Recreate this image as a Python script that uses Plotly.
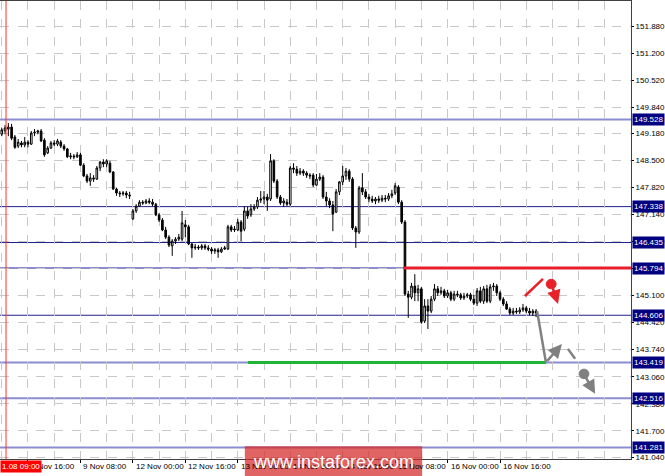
import plotly.graph_objects as go

# hourly candles, bar index 0..164 (8 Nov ~07:00 onwards)
opens = [149.19, 149.16, 149.24, 149.29, 149.34, 149.09, 148.86, 148.94, 148.89, 148.96,
         148.91, 149.19, 149.21, 149.24, 149.01, 148.69, 148.81, 148.94, 148.91, 148.96,
         148.86, 148.79, 148.59, 148.61, 148.59, 148.64, 148.38, 148.11, 147.98, 148.06,
         148.03, 148.31, 148.46, 148.41, 148.43, 148.21, 147.78, 147.68, 147.66, 147.68,
         147.63, 147.03, 147.23, 147.35, 147.45, 147.43, 147.48, 147.45, 147.40, 147.13,
         147.00, 146.75, 146.57, 146.35, 146.47, 146.52, 146.52, 146.88, 146.83, 146.40,
         146.30, 146.32, 146.30, 146.35, 146.30, 146.27, 146.22, 146.25, 146.20, 146.27,
         146.27, 146.83, 146.75, 146.75, 146.95, 146.77, 147.23, 147.13, 147.28, 147.33,
         147.50, 147.53, 147.58, 147.53, 148.49, 147.98, 147.58, 147.43, 147.45, 147.40,
         148.31, 148.28, 148.18, 148.23, 148.18, 148.13, 148.13, 147.88, 148.03, 148.08,
         147.58, 147.48, 147.38, 147.20, 147.71, 147.96, 148.11, 148.23, 148.03, 146.80,
         146.70, 147.81, 147.71, 147.58, 147.53, 147.48, 147.53, 147.50, 147.55, 147.53,
         147.61, 147.68, 147.83, 147.45, 146.95, 145.14, 145.06, 145.34, 145.17, 145.27,
         144.46, 144.84, 144.71, 145.01, 145.27, 145.17, 145.22, 145.09, 145.17, 145.01,
         145.14, 145.12, 145.04, 145.09, 145.12, 145.01, 144.91, 145.22, 144.96, 145.27,
         144.96, 145.32, 145.34, 145.17, 145.01, 144.89, 144.76, 144.66, 144.71, 144.69,
         144.74, 144.79, 144.71, 144.66, 144.71]
highs = [149.29, 149.32, 149.39, 149.44, 149.42, 149.14, 149.04, 148.99, 149.09, 149.01,
         149.24, 149.29, 149.27, 149.29, 149.06, 148.86, 148.99, 149.01, 149.04, 149.01,
         148.91, 148.81, 148.69, 148.66, 148.71, 148.69, 148.43, 148.16, 148.18, 148.13,
         148.36, 148.49, 148.53, 148.53, 148.49, 148.23, 147.81, 147.73, 147.73, 147.73,
         147.71, 147.28, 147.40, 147.50, 147.50, 147.53, 147.55, 147.53, 147.43, 147.18,
         147.05, 146.83, 146.62, 146.52, 146.57, 146.65, 147.23, 147.00, 146.88, 146.42,
         146.40, 146.37, 146.40, 146.40, 146.37, 146.32, 146.30, 146.30, 146.32, 146.35,
         146.88, 146.88, 146.85, 147.03, 147.00, 147.35, 147.33, 147.40, 147.40, 147.58,
         147.73, 147.73, 147.66, 148.66, 148.53, 148.03, 147.63, 147.55, 147.53, 148.36,
         148.43, 148.36, 148.31, 148.28, 148.23, 148.18, 148.18, 148.16, 148.18, 148.13,
         147.71, 147.55, 147.48, 147.78, 147.98, 148.36, 148.31, 148.28, 148.08, 146.85,
         147.86, 148.18, 147.78, 147.66, 147.61, 147.58, 147.61, 147.63, 147.63, 147.68,
         147.76, 147.93, 147.88, 147.50, 147.00, 145.22, 145.42, 145.64, 145.37, 145.32,
         145.01, 145.01, 145.09, 145.39, 145.34, 145.32, 145.27, 145.24, 145.22, 145.22,
         145.22, 145.17, 145.17, 145.17, 145.17, 145.12, 145.29, 145.32, 145.34, 145.37,
         145.39, 145.42, 145.39, 145.22, 145.06, 144.96, 144.81, 144.79, 144.79, 144.81,
         144.89, 144.84, 144.79, 144.76, 144.76]
lows = [149.11, 149.11, 149.16, 149.11, 149.01, 148.79, 148.81, 148.83, 148.83, 148.83,
        148.89, 149.11, 149.16, 148.96, 148.59, 148.66, 148.79, 148.86, 148.86, 148.81,
        148.74, 148.56, 148.53, 148.53, 148.56, 148.36, 148.08, 147.93, 147.86, 147.96,
        148.01, 148.23, 148.33, 148.33, 148.18, 147.76, 147.61, 147.58, 147.61, 147.55,
        147.53, 147.00, 147.18, 147.33, 147.38, 147.40, 147.40, 147.35, 147.10, 146.95,
        146.72, 146.52, 146.32, 146.10, 146.40, 146.47, 146.47, 146.57, 146.37, 146.05,
        146.25, 146.25, 146.25, 146.25, 146.22, 146.15, 146.15, 146.05, 146.17, 146.25,
        146.25, 146.70, 146.70, 146.72, 146.47, 146.72, 147.03, 147.08, 147.23, 147.28,
        147.43, 147.40, 147.23, 147.48, 147.93, 147.53, 147.38, 147.33, 147.35, 147.35,
        148.18, 148.11, 148.13, 148.11, 148.06, 148.03, 147.83, 147.86, 147.98, 147.53,
        147.35, 147.30, 146.72, 147.18, 147.63, 147.88, 148.01, 147.96, 146.75, 146.30,
        146.65, 147.63, 147.53, 147.45, 147.43, 147.40, 147.43, 147.45, 147.45, 147.48,
        147.55, 147.63, 147.40, 146.90, 145.09, 144.54, 145.01, 144.96, 144.96, 144.39,
        144.41, 144.26, 144.66, 144.96, 145.09, 145.12, 145.04, 145.04, 144.96, 144.96,
        145.06, 144.99, 144.99, 145.04, 144.96, 144.86, 144.84, 144.91, 144.89, 144.91,
        144.91, 145.22, 145.09, 144.96, 144.84, 144.74, 144.61, 144.61, 144.64, 144.64,
        144.69, 144.66, 144.61, 144.59, 144.56]
closes = [149.24, 149.27, 149.32, 149.34, 149.06, 148.83, 148.96, 148.89, 148.96, 148.91,
          149.19, 149.21, 149.24, 148.99, 148.64, 148.81, 148.94, 148.91, 148.99, 148.86,
          148.79, 148.59, 148.61, 148.59, 148.64, 148.38, 148.11, 147.98, 148.06, 148.03,
          148.31, 148.46, 148.41, 148.49, 148.21, 147.78, 147.68, 147.66, 147.68, 147.63,
          147.61, 147.23, 147.35, 147.45, 147.43, 147.48, 147.45, 147.40, 147.13, 147.00,
          146.75, 146.57, 146.37, 146.47, 146.52, 146.57, 146.93, 146.83, 146.40, 146.30,
          146.32, 146.30, 146.35, 146.30, 146.27, 146.22, 146.25, 146.20, 146.27, 146.30,
          146.83, 146.75, 146.77, 146.95, 146.72, 147.23, 147.10, 147.28, 147.33, 147.50,
          147.53, 147.58, 147.50, 148.49, 147.98, 147.58, 147.43, 147.48, 147.40, 148.31,
          148.28, 148.18, 148.23, 148.18, 148.13, 148.11, 147.88, 148.03, 148.08, 147.58,
          147.48, 147.38, 147.15, 147.71, 147.96, 148.11, 148.23, 148.03, 146.80, 146.70,
          147.81, 147.71, 147.58, 147.53, 147.48, 147.53, 147.50, 147.55, 147.53, 147.61,
          147.66, 147.86, 147.45, 146.95, 145.14, 145.06, 145.34, 145.17, 145.27, 144.44,
          144.84, 144.71, 145.01, 145.27, 145.17, 145.22, 145.09, 145.17, 145.01, 145.14,
          145.12, 145.04, 145.09, 145.12, 145.01, 144.91, 145.22, 144.96, 145.27, 144.96,
          145.32, 145.34, 145.17, 145.01, 144.89, 144.76, 144.66, 144.71, 144.69, 144.74,
          144.79, 144.71, 144.66, 144.71, 144.66]
bar_index = list(range(len(closes)))

# time labels every 16 bars
time_ticks = [9, 25, 41, 57, 73, 89, 105, 121, 137, 153]
time_labels = ['8 Nov 16:00', '9 Nov 08:00', '12 Nov 00:00', '12 Nov 16:00', '13 Nov 08:00',
               '14 Nov 00:00', '14 Nov 16:00', '15 Nov 08:00', '16 Nov 00:00', '16 Nov 16:00']

# price scale as printed on the right axis
price_ticks = [141.04, 141.70, 142.38, 143.06, 143.74, 144.42, 145.10, 145.78, 146.46,
               147.14, 147.82, 148.50, 149.18, 149.84, 150.52, 151.20, 151.88]

# horizontal levels: value, light (True) or dark line
levels = [149.528, 147.338, 146.435, 145.794, 144.606, 143.419, 142.516, 141.281]
level_light = [True, False, False, True, False, True, True, True]

red_level = 145.794
green_level = 143.419
x_range = [0.46, 192.95]
y_range = [140.99, 152.51]

navy = '#000080'
light_line = '#8c8cd0'
dark_line = '#20208c'
red = '#e8202a'
grey = '#808080'
font_fam = 'Liberation Sans'

fig = go.Figure()
fig.add_trace(go.Candlestick(
    x=bar_index, open=opens, high=highs, low=lows, close=closes,
    increasing=dict(line=dict(color='black', width=1), fillcolor='white'),
    decreasing=dict(line=dict(color='black', width=1), fillcolor='black'),
    whiskerwidth=0, showlegend=False, hoverinfo='skip'))

shapes = []
for lv, lt in zip(levels, level_light):
    shapes.append(dict(type='line', xref='paper', x0=0, x1=1, y0=lv, y1=lv, yref='y',
                       line=dict(color=light_line if lt else dark_line, width=2 if lt else 1),
                       layer='below'))

# red resistance and green target lines
shapes.append(dict(type='line', xref='x', yref='y', x0=123.5, x1=x_range[1], y0=red_level, y1=red_level,
                   line=dict(color=red, width=3)))
shapes.append(dict(type='line', xref='x', yref='y', x0=76.1, x1=167.0, y0=green_level, y1=green_level,
                   line=dict(color='#22b436', width=3)))
# crosshair line
shapes.append(dict(type='line', xref='x', yref='paper', x0=2.3, x1=2.3, y0=0, y1=1,
                   line=dict(color='#ff3030', width=1)))

# scenario drawings
shapes.append(dict(type='line', xref='x', yref='y', x0=160.6, y0=145.09, x1=166.1, y1=145.52,
                   line=dict(color=red, width=2.5)))
shapes.append(dict(type='circle', xref='x', yref='y', x0=167.1, x1=170.1, y0=145.27, y1=145.51,
                   line=dict(color=red, width=1), fillcolor=red))
shapes.append(dict(type='line', xref='x', yref='y', x0=164.3, y0=144.71, x1=167.0, y1=143.42,
                   line=dict(color=grey, width=2.5)))
shapes.append(dict(type='line', xref='x', yref='y', x0=173.7, y0=143.76, x1=175.9, y1=143.51,
                   line=dict(color=grey, width=2.5)))
shapes.append(dict(type='circle', xref='x', yref='y', x0=177.1, x1=180.1, y0=143.01, y1=143.25,
                   line=dict(color=grey, width=1), fillcolor=grey))

# watermark
shapes.append(dict(type='rect', xref='paper', yref='paper', x0=0.388, x1=0.669, y0=-0.04, y1=0.028,
                   fillcolor='rgba(214,40,40,0.72)', line=dict(width=0), layer='above'))

annotations = []
for lv in levels:
    annotations.append(dict(x=1, xref='paper', y=lv, yref='y', xanchor='left', yanchor='middle',
                            text='%.3f' % lv, showarrow=False, xshift=1,
                            bgcolor=navy, borderpad=1,
                            font=dict(color='white', size=8, family=font_fam)))
for t, lab in zip(time_ticks, time_labels):
    annotations.append(dict(x=t, xref='x', y=0, yref='paper', xanchor='left', yanchor='top',
                            text=lab, showarrow=False, xshift=1, yshift=-1,
                            font=dict(color='black', size=8, family=font_fam)))
annotations.append(dict(x=0, xref='paper', y=0, yref='paper', xanchor='left', yanchor='top',
                        text='1.08 09:00', showarrow=False, yshift=-1, bgcolor='#ff0000',
                        borderpad=1, font=dict(color='white', size=8, family=font_fam)))
# arrows
annotations.append(dict(x=170.7, y=144.89, ax=168.9, ay=145.34, xref='x', yref='y', axref='x', ayref='y',
                        text='', showarrow=True, arrowhead=2, arrowsize=1.1, arrowwidth=2.5,
                        arrowcolor=red))
annotations.append(dict(x=171.9, y=143.88, ax=167.0, ay=143.42, xref='x', yref='y', axref='x', ayref='y',
                        text='', showarrow=True, arrowhead=2, arrowsize=1.1, arrowwidth=2.5,
                        arrowcolor=grey))
annotations.append(dict(x=182.0, y=142.63, ax=178.9, ay=143.08, xref='x', yref='y', axref='x', ayref='y',
                        text='', showarrow=True, arrowhead=2, arrowsize=1.1, arrowwidth=2.5,
                        arrowcolor=grey))
annotations.append(dict(x=0.528, xref='paper', y=-0.006, yref='paper', xanchor='center', yanchor='middle',
                        text='www.instaforex.com', showarrow=False,
                        font=dict(color='white', size=18, family=font_fam)))

fig.update_layout(
    width=665, height=476,
    margin=dict(l=0, r=34, t=1, b=17),
    paper_bgcolor='white', plot_bgcolor='white',
    font=dict(family=font_fam, size=8, color='black'),
    shapes=shapes, annotations=annotations,
    showlegend=False,
)
fig.update_xaxes(range=x_range, rangeslider_visible=False,
                 tickvals=time_ticks, ticktext=['' for _ in time_ticks],
                 ticks='outside', ticklen=3, tickcolor='black',
                 showgrid=True, gridcolor='#c8c8c8', griddash='dash', gridwidth=1,
                 minor=dict(dtick=8, tick0=1, showgrid=True, gridcolor='#c8c8c8', griddash='dash'),
                 showline=True, linecolor='#404040', mirror=True, zeroline=False)
fig.update_yaxes(range=y_range, side='right', tickvals=price_ticks,
                 ticktext=['%.3f' % v for v in price_ticks],
                 ticks='outside', ticklen=2, tickcolor='black', automargin=False,
                 showgrid=True, gridcolor='#c8c8c8', griddash='dash', gridwidth=1,
                 showline=True, linecolor='#404040', mirror=True, zeroline=False)

fig.write_html('out.html', config={'displayModeBar': False},
               post_script="document.body.style.margin='0px';")
